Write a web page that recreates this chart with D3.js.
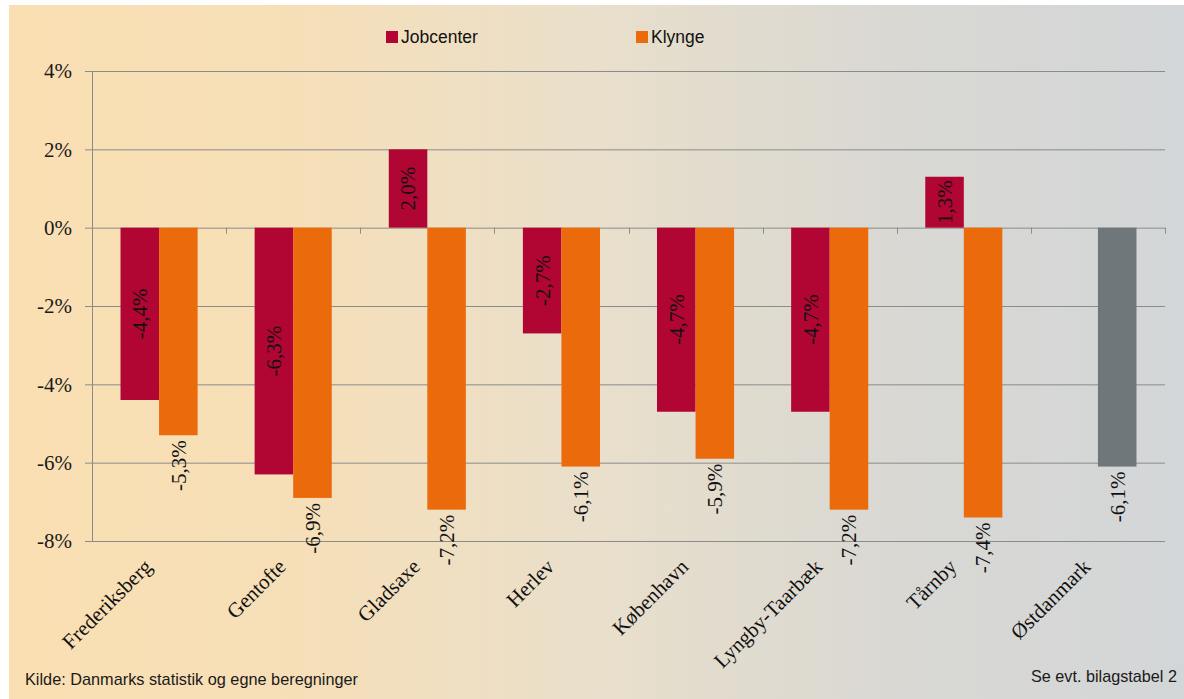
<!DOCTYPE html>
<html>
<head>
<meta charset="utf-8">
<script src="https://cdn.jsdelivr.net/npm/d3@7"></script>
<style>
  body { margin: 0; background: #fff; }
  svg { display: block; }
</style>
</head>
<body>
<div id="chart"></div>
<script>
const categories = ['Frederiksberg', 'Gentofte', 'Gladsaxe', 'Herlev', 'København',
                    'Lyngby-Taarbæk', 'Tårnby', 'Østdanmark'];
const jobcenter = [-4.4, -6.3, 2.0, -2.7, -4.7, -4.7, 1.3, null];
const klynge = [-5.3, -6.9, -7.2, -6.1, -5.9, -7.2, -7.4, -6.1];
const seriesNames = ['Jobcenter', 'Klynge'];
const yTicks = [4, 2, 0, -2, -4, -6, -8];

(function() {
  const width = 1184, height = 699;
  const margin = {top: 71, right: 19, bottom: 158, left: 92};
  const colors = {Jobcenter: '#b10534', Klynge: '#ea6a0c', total: '#6f777a'};

  const svg = d3.select('#chart').append('svg')
    .attr('width', width)
    .attr('height', height);

  const grad = svg.append('defs').append('linearGradient')
    .attr('id', 'bg')
    .attr('x1', '0%').attr('x2', '100%').attr('y1', '0%').attr('y2', '0%');
  grad.append('stop').attr('offset', '0%').attr('stop-color', '#fadfb2');
  grad.append('stop').attr('offset', '25%').attr('stop-color', '#f6dfb8');
  grad.append('stop').attr('offset', '50%').attr('stop-color', '#e9dfcb');
  grad.append('stop').attr('offset', '75%').attr('stop-color', '#d9d8d3');
  grad.append('stop').attr('offset', '100%').attr('stop-color', '#d3d6d8');

  svg.append('rect')
    .attr('x', 9).attr('y', 5)
    .attr('width', width - 9).attr('height', height - 5)
    .attr('fill', 'url(#bg)');

  const x = d3.scaleBand()
    .domain(categories)
    .range([margin.left, width - margin.right])
    .padding(0);

  const inner = d3.scaleBand()
    .domain(seriesNames)
    .range([0, x.bandwidth()])
    .paddingOuter(0.74)
    .paddingInner(0);

  const y = d3.scaleLinear()
    .domain([-8, 4])
    .range([height - margin.bottom, margin.top]);

  // gridlines
  svg.append('g')
    .selectAll('line')
    .data(yTicks)
    .enter().append('line')
      .attr('x1', margin.left - 7)
      .attr('x2', width - margin.right)
      .attr('y1', d => y(d) + 0.5)
      .attr('y2', d => y(d) + 0.5)
      .attr('stroke', '#8a8c8c')
      .attr('stroke-width', 1);

  // y axis line
  svg.append('line')
    .attr('x1', margin.left + 0.5).attr('x2', margin.left + 0.5)
    .attr('y1', y(4)).attr('y2', y(-8))
    .attr('stroke', '#8a8c8c');

  // y labels
  svg.append('g')
    .selectAll('text')
    .data(yTicks)
    .enter().append('text')
      .attr('x', margin.left - 20)
      .attr('y', d => y(d))
      .attr('dy', '0.35em')
      .attr('text-anchor', 'end')
      .style('font-family', '"Liberation Serif", "Times New Roman", serif')
      .style('font-size', '21px')
      .attr('fill', '#1a1a1a')
      .text(d => d + '%');

  const data = [];
  categories.forEach((c, i) => {
    if (jobcenter[i] != null) data.push({cat: c, s: 'Jobcenter', v: jobcenter[i], fill: colors.Jobcenter});
    if (klynge[i] != null) data.push({cat: c, s: 'Klynge', v: klynge[i],
      fill: c === 'Østdanmark' ? colors.total : colors.Klynge});
  });

  const bx = d => x(d.cat) + inner(d.s);

  svg.append('g')
    .selectAll('rect')
    .data(data)
    .enter().append('rect')
      .attr('x', bx)
      .attr('width', inner.bandwidth())
      .attr('y', d => y(Math.max(0, d.v)))
      .attr('height', d => Math.abs(y(d.v) - y(0)))
      .attr('fill', d => d.fill);

  // category ticks on zero line
  svg.append('g')
    .selectAll('line')
    .data(d3.range(categories.length + 1))
    .enter().append('line')
      .attr('x1', i => Math.round(margin.left + i * x.step()) + 0.5)
      .attr('x2', i => Math.round(margin.left + i * x.step()) + 0.5)
      .attr('y1', y(0))
      .attr('y2', y(0) + 6)
      .attr('stroke', '#8a8c8c');

  const fmt = v => d3.format('.1f')(v).replace('.', ',').replace('−', '-') + '%';

  // value labels
  svg.append('g')
    .selectAll('text')
    .data(data)
    .enter().append('text')
      .attr('transform', d => {
        const cx = bx(d) + inner.bandwidth() / 2;
        const cy = d.s === 'Jobcenter' ? (y(d.v) + y(0)) / 2 : y(d.v) + 5;
        return `translate(${cx},${cy}) rotate(-90)`;
      })
      .attr('dy', '0.35em')
      .attr('text-anchor', d => d.s === 'Jobcenter' ? 'middle' : 'end')
      .style('font-family', '"Liberation Serif", "Times New Roman", serif')
      .style('font-size', '21px')
      .attr('fill', '#111')
      .text(d => fmt(d.v));

  // category labels
  svg.append('g')
    .selectAll('text')
    .data(categories)
    .enter().append('text')
      .attr('transform', d => `translate(${x(d) + x.bandwidth() / 2 - 6},${y(-8) + 27}) rotate(-45)`)
      .attr('text-anchor', 'end')
      .style('font-family', '"Liberation Serif", "Times New Roman", serif')
      .style('font-size', '21px')
      .attr('fill', '#111')
      .text(d => d);

  // legend
  const legend = svg.append('g')
    .selectAll('g')
    .data(seriesNames)
    .enter().append('g')
      .attr('transform', (d, i) => `translate(${[386, 636][i]},31)`);
  legend.append('rect')
    .attr('width', 12).attr('height', 12)
    .attr('fill', d => colors[d]);
  legend.append('text')
    .attr('x', 15).attr('y', 6)
    .attr('dy', '0.35em')
    .style('font-family', '"Liberation Sans", Arial, sans-serif')
    .style('font-size', '17.5px')
    .attr('fill', '#111')
    .text(d => d);

  // footnotes
  svg.append('text')
    .attr('x', 25).attr('y', 685)
    .attr('textLength', 333)
    .attr('lengthAdjust', 'spacingAndGlyphs')
    .style('font-family', '"Liberation Sans", Arial, sans-serif')
    .style('font-size', '17px')
    .attr('fill', '#1a1a1a')
    .text('Kilde: Danmarks statistik og egne beregninger');

  svg.append('text')
    .attr('x', 1031).attr('y', 682)
    .attr('textLength', 146)
    .attr('lengthAdjust', 'spacingAndGlyphs')
    .style('font-family', '"Liberation Sans", Arial, sans-serif')
    .style('font-size', '17px')
    .attr('fill', '#1a1a1a')
    .text('Se evt. bilagstabel 2');
})();
</script>
</body>
</html>
